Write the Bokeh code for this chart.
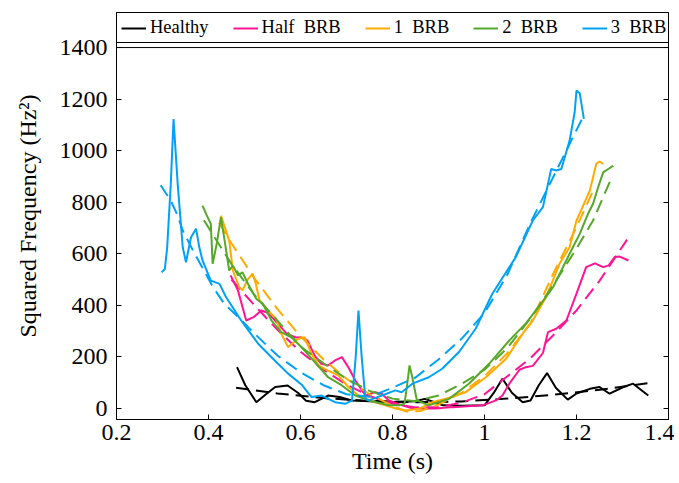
from bokeh.plotting import figure
from bokeh.models import (Range1d, FixedTicker, CustomJSTickFormatter, Legend, LegendItem,
                          Span, LinearAxis)
from bokeh.embed import file_html
from bokeh.resources import INLINE

# ---------------- data ----------------
healthy_t = [0.462, 0.48, 0.504, 0.525, 0.545, 0.572, 0.595, 0.612, 0.631, 0.66, 0.685, 0.711,
             0.75, 0.8, 0.85, 0.87, 0.89, 0.91, 0.95, 1.0, 1.02, 1.039, 1.06, 1.083, 1.10, 1.118,
             1.136, 1.155, 1.181, 1.2, 1.229, 1.25, 1.272, 1.302, 1.323, 1.356]
healthy_v = [160, 90, 24, 55, 83, 89, 60, 30, 24, 50, 44, 31, 28, 25, 28, 37, 25, 12, 10, 12, 60,
             115, 60, 24, 31, 90, 137, 80, 34, 58, 76, 83, 57, 83, 96, 50]
healthy_fit_t = [0.46, 0.55, 0.65, 0.75, 0.85, 0.95, 1.05, 1.15, 1.25, 1.356]
healthy_fit_v = [80, 58, 40, 29, 24, 27, 38, 53, 72, 98]

half_t = [0.448, 0.464, 0.482, 0.498, 0.515, 0.53, 0.55, 0.57, 0.59, 0.602, 0.615, 0.631, 0.645,
          0.66, 0.675, 0.69, 0.704, 0.719, 0.741, 0.762, 0.777, 0.792, 0.821, 0.843, 0.894, 0.93,
          0.996, 1.025, 1.039, 1.054, 1.076, 1.09, 1.105, 1.127, 1.138, 1.156, 1.178, 1.2, 1.221,
          1.24, 1.258, 1.27, 1.283, 1.294, 1.313]
half_v = [516, 458, 341, 354, 380, 370, 330, 290, 275, 276, 264, 205, 173, 167, 186, 199, 160, 109,
          50, 63, 57, 31, 12, 0, 0, 5, 12, 31, 50, 96, 150, 160, 165, 215, 296, 309, 341, 445, 548,
          563, 548, 555, 587, 589, 574]
half_fit_t = [0.45, 0.5, 0.55, 0.6, 0.65, 0.7, 0.75, 0.8, 0.85, 0.9, 0.95, 1.0, 1.05, 1.1, 1.15,
              1.2, 1.25, 1.31]
half_fit_v = [500, 400, 305, 220, 150, 92, 48, 18, 4, 5, 22, 55, 125, 195, 285, 380, 495, 655]

one_t = [0.427, 0.433, 0.445, 0.453, 0.467, 0.474, 0.485, 0.496, 0.503, 0.511, 0.533, 0.547, 0.558,
         0.573, 0.595, 0.609, 0.624, 0.639, 0.66, 0.682, 0.704, 0.726, 0.762, 0.806, 0.83, 0.86,
         0.886, 0.92, 0.959, 1.003, 1.047, 1.083, 1.105, 1.134, 1.163, 1.185, 1.2, 1.21, 1.229,
         1.243, 1.25, 1.258]
one_v = [748, 716, 651, 535, 470, 458, 500, 522, 483, 419, 373, 348, 290, 238, 270, 276, 212, 167,
         147, 128, 83, 50, 24, 0, -8, 0, 24, 40, 63, 121, 193, 290, 341, 432, 561, 625, 729, 768,
         845, 949, 958, 949]
one_fit_t = [0.423, 0.45, 0.5, 0.55, 0.6, 0.65, 0.7, 0.75, 0.8, 0.83, 0.86, 0.9, 0.95, 1.0, 1.05,
             1.1, 1.15, 1.2, 1.24]
one_fit_v = [720, 640, 505, 385, 280, 190, 115, 55, 10, -12, -10, 15, 60, 125, 215, 330, 525, 703, 860]

two_t = [0.387, 0.396, 0.405, 0.409, 0.418, 0.427, 0.436, 0.445, 0.453, 0.464, 0.474, 0.486, 0.504,
         0.518, 0.537, 0.558, 0.58, 0.602, 0.631, 0.66, 0.69, 0.719, 0.748, 0.792, 0.815, 0.826,
         0.831, 0.837, 0.843, 0.853, 0.879, 0.923, 0.966, 1.01, 1.054, 1.09, 1.12, 1.149, 1.185,
         1.207, 1.225, 1.236, 1.247, 1.258, 1.269, 1.28]
two_v = [787, 750, 716, 561, 640, 742, 640, 535, 554, 516, 528, 483, 425, 406, 341, 296, 276, 238,
         180, 121, 89, 50, 31, 12, 12, 18, 80, 167, 121, 31, 12, 37, 96, 173, 264, 330, 400, 470,
         600, 677, 755, 794, 858, 916, 929, 942]
two_fit_t = [0.39, 0.45, 0.5, 0.55, 0.6, 0.65, 0.7, 0.75, 0.8, 0.85, 0.9, 0.95, 1.0, 1.05, 1.1,
             1.15, 1.2, 1.236, 1.275]
two_fit_v = [730, 560, 440, 340, 240, 175, 115, 68, 38, 28, 50, 95, 150, 235, 350, 480, 620, 729, 890]

three_t = [0.298, 0.305, 0.31, 0.318, 0.324, 0.333, 0.344, 0.351, 0.362, 0.373, 0.38, 0.387, 0.405,
           0.424, 0.438, 0.471, 0.508, 0.544, 0.573, 0.602, 0.624, 0.646, 0.675, 0.697, 0.712,
           0.72, 0.726, 0.733, 0.741, 0.748, 0.777, 0.806, 0.82, 0.843, 0.879, 0.908, 0.945,
           0.981, 1.017, 1.068, 1.105, 1.127, 1.145, 1.156, 1.167, 1.185, 1.196, 1.2, 1.207, 1.216]
three_v = [528, 541, 620, 870, 1123, 871, 625, 567, 664, 697, 625, 574, 496, 483, 432, 341, 251,
           186, 135, 93, 44, 50, 24, 18, 31, 200, 380, 200, 37, 31, 50, 70, 63, 96, 121, 154, 220,
           310, 445, 587, 729, 781, 929, 923, 929, 1039, 1149, 1233, 1223, 1123]
three_fit_t = [0.296, 0.318, 0.333, 0.344, 0.37, 0.394, 0.41, 0.434, 0.47, 0.5, 0.55, 0.6, 0.65,
               0.7, 0.75, 0.8, 0.85, 0.9, 0.95, 1.0, 1.05, 1.1, 1.15, 1.214]
three_fit_v = [866, 806, 748, 690, 600, 523, 470, 407, 345, 290, 205, 140, 90, 55, 45, 80, 120,
               190, 270, 370, 520, 720, 900, 1130]

labels = ["Healthy", "Half  BRB", "1  BRB", "2  BRB", "3  BRB"]
colors = ["#000000", "#FF1493", "#FFAA00", "#55A82A", "#00A2F5"]
x_ticks = [0.2, 0.4, 0.6, 0.8, 1.0, 1.2, 1.4]
y_ticks = [0, 200, 400, 600, 800, 1000, 1200, 1400]
y_bottom = -43        # bottom of the axes box
y_top = 1400          # top of the axes box
y_legend_room = 1536  # extra room above the box that holds the legend

series = [
    (healthy_t, healthy_v, healthy_fit_t, healthy_fit_v),
    (half_t, half_v, half_fit_t, half_fit_v),
    (one_t, one_v, one_fit_t, one_fit_v),
    (two_t, two_v, two_fit_t, two_fit_v),
    (three_t, three_v, three_fit_t, three_fit_v),
]

FONT = "Liberation Serif"

p = figure(width=674, height=483, output_backend="svg", toolbar_location=None,
           x_range=Range1d(0.2, 1.4), y_range=Range1d(y_bottom, y_legend_room),
           min_border_left=116, min_border_right=6, min_border_top=12, min_border_bottom=64)
p.background_fill_color = "white"
p.border_fill_color = "white"
p.outline_line_color = "black"
p.outline_line_width = 1
p.outline_line_alpha = 1
p.xgrid.visible = False
p.ygrid.visible = False

# top edge of the axes box
p.add_layout(Span(location=y_top, dimension="width", line_color="black", line_width=1))

items = []
for (st, sv, ft, fv), lab, col in zip(series, labels, colors):
    p.line(ft, fv, line_color=col, line_width=2, line_dash="13 7")
    r = p.line(st, sv, line_color=col, line_width=2)
    items.append(LegendItem(label=lab, renderers=[r]))

right_axis = LinearAxis(ticker=FixedTicker(ticks=y_ticks),
                        formatter=CustomJSTickFormatter(code="return '';"))
p.add_layout(right_axis, "right")

for ax in (p.xaxis[0], p.yaxis[0], right_axis):
    ax.axis_line_color = "black"
    ax.major_tick_line_color = "black"
    ax.major_tick_in = 5
    ax.major_tick_out = 0
    ax.minor_tick_line_color = None
    ax.major_label_text_font = FONT
    ax.major_label_text_font_size = "24px"
    ax.major_label_text_color = "black"
    ax.axis_label_text_font = FONT
    ax.axis_label_text_font_size = "24px"
    ax.axis_label_text_font_style = "normal"
    ax.axis_label_text_color = "black"

right_axis.major_label_text_font_size = "1px"
right_axis.major_label_standoff = 0

p.xaxis[0].ticker = FixedTicker(ticks=x_ticks)
p.xaxis[0].formatter = CustomJSTickFormatter(code="return Number(tick.toFixed(2)).toString();")
p.xaxis[0].axis_label = "Time (s)"
p.xaxis[0].major_label_standoff = 5
p.xaxis[0].axis_label_standoff = 5

p.yaxis[0].ticker = FixedTicker(ticks=y_ticks)
p.yaxis[0].axis_label = "Squared Frequency (Hz\u00b2)"
p.yaxis[0].major_label_standoff = 9
p.yaxis[0].axis_label_standoff = 16

legend = Legend(items=items, orientation="horizontal", location="top_left",
                padding=4, spacing=24, glyph_width=25, label_standoff=4, margin=0,
                label_text_font=FONT, label_text_font_size="18.5px",
                label_text_color="black",
                border_line_color="black", border_line_width=1, border_line_alpha=1,
                background_fill_color="white", background_fill_alpha=1)
p.add_layout(legend, "center")

open("out.html", "w").write(file_html(p, INLINE))
